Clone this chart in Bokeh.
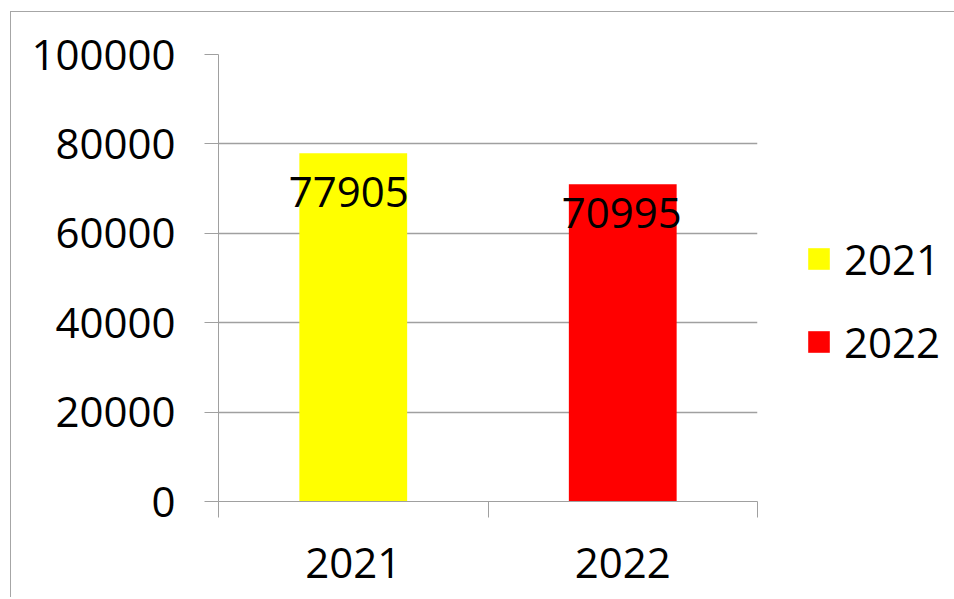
from bokeh.plotting import figure
from bokeh.models import (FactorRange, Range1d, LinearAxis, CategoricalAxis, FixedTicker,
                          Legend, LegendItem, ColumnDataSource, BasicTickFormatter,
                          CustomJSTickFormatter)
from bokeh.core.properties import value
from bokeh.embed import file_html
from bokeh.resources import INLINE

categories = ["2021", "2022"]
values = [77905, 70995]
colors = ["#FFFF00", "#FF0000"]
y_ticks = [0, 20000, 40000, 60000, 80000, 100000]

FONT = "Open Sans"
FS = "42px"
GRAY = "#a0a0a0"

p = figure(x_range=FactorRange(*categories, range_padding=0), y_range=Range1d(0, 100000),
           frame_width=539, frame_height=447,
           min_border_left=207, min_border_top=42, min_border_right=195, min_border_bottom=96,
           x_axis_location=None, y_axis_location=None,
           output_backend="svg", toolbar_location=None)
p.outline_line_color = None
p.background_fill_color = "white"
p.border_fill_color = "white"
p.margin = (11, 0, 0, 10)
p.styles = {"border-left": "1px solid #a6a6a6", "border-top": "1px solid #a6a6a6"}

src = ColumnDataSource(dict(cat=categories, val=values, color=colors))
r = p.vbar(x="cat", top="val", width=0.4, fill_color="color", line_color=None, source=src)

# value labels
p.text(x=categories, y=values, text=[str(v) for v in values],
       x_offset=[-4.5, -1], y_offset=[39, 29],
       text_font=value(FONT), text_font_size=FS, text_align="center",
       text_baseline="alphabetic", text_color="black")

# y axis
yax = LinearAxis(ticker=FixedTicker(ticks=y_ticks),
                 formatter=BasicTickFormatter(use_scientific=False))
yax.axis_line_color = GRAY
yax.major_tick_line_color = GRAY
yax.major_tick_in = 0
yax.major_tick_out = 14
yax.minor_tick_line_color = None
yax.major_label_text_font = FONT
yax.major_label_text_font_size = FS
yax.major_label_text_color = "black"
yax.major_label_standoff = 29
p.add_layout(yax, "left")

# x axis: tick marks between categories (no labels)
xtick = LinearAxis(ticker=FixedTicker(ticks=[0, 1, 2]),
                   formatter=CustomJSTickFormatter(code="return ''"))
xtick.axis_line_color = GRAY
xtick.major_tick_line_color = GRAY
xtick.major_tick_in = 0
xtick.major_tick_out = 16
xtick.minor_tick_line_color = None
xtick.major_label_text_font_size = "10px"
xtick.major_label_standoff = 0
p.add_layout(xtick, "below")

xcat = CategoricalAxis()
xcat.axis_line_color = None
xcat.major_tick_line_color = None
xcat.minor_tick_line_color = None
xcat.major_label_text_font = FONT
xcat.major_label_text_font_size = FS
xcat.major_label_text_color = "black"
xcat.major_label_standoff = 24
p.add_layout(xcat, "below")

p.xgrid.grid_line_color = None
p.ygrid.ticker = FixedTicker(ticks=y_ticks)
p.ygrid.grid_line_color = GRAY
p.ygrid.grid_line_width = 1.3

legend = Legend(items=[LegendItem(label=categories[i], renderers=[r], index=i) for i in range(2)],
                location=(48, 131))
legend.label_text_font = FONT
legend.label_text_font_size = FS
legend.label_text_color = "black"
legend.glyph_width = 27
legend.glyph_height = 27
legend.label_height = 48
legend.label_standoff = 12
legend.spacing = 26
legend.padding = 0
legend.margin = 0
legend.border_line_color = None
legend.background_fill_alpha = 0
p.add_layout(legend, "right")

open("out.html", "w").write(file_html(p, INLINE))
